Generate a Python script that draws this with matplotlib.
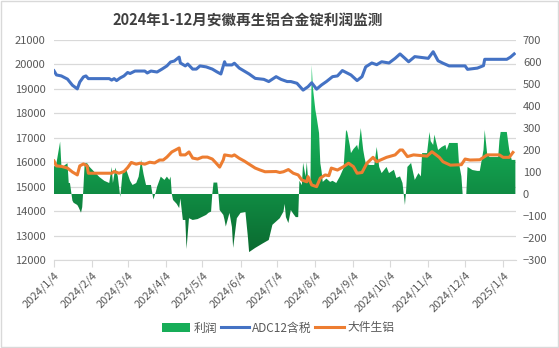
import matplotlib
matplotlib.use("Agg")
import matplotlib.pyplot as plt
import numpy as np
import pandas as pd
import matplotlib.dates as mdates
from matplotlib.colors import LinearSegmentedColormap
from matplotlib.lines import Line2D
from matplotlib.patches import Patch, Rectangle

plt.rcParams['font.family'] = ['Noto Sans CJK SC', 'DejaVu Sans']

# ---- data ----
adc12_dates = [
    "2024-01-04", "2024-01-06", "2024-01-10", "2024-01-15", "2024-01-19", "2024-01-23", "2024-01-25",
    "2024-01-28", "2024-01-30", "2024-02-01", "2024-02-18", "2024-02-20", "2024-02-22", "2024-02-24",
    "2024-02-27", "2024-03-01", "2024-03-04", "2024-03-06", "2024-03-10", "2024-03-18", "2024-03-20",
    "2024-03-23", "2024-03-28", "2024-04-01", "2024-04-05", "2024-04-08", "2024-04-11", "2024-04-15",
    "2024-04-16", "2024-04-20", "2024-04-22", "2024-04-26", "2024-04-29", "2024-05-02", "2024-05-07",
    "2024-05-12", "2024-05-16", "2024-05-19", "2024-05-22", "2024-05-23", "2024-05-28", "2024-05-30",
    "2024-06-03", "2024-06-07", "2024-06-11", "2024-06-16", "2024-06-23", "2024-06-27", "2024-07-03",
    "2024-07-07", "2024-07-12", "2024-07-15", "2024-07-20", "2024-07-25", "2024-07-29", "2024-08-01",
    "2024-08-05", "2024-08-09", "2024-08-13", "2024-08-18", "2024-08-22", "2024-08-26", "2024-09-02",
    "2024-09-07", "2024-09-11", "2024-09-14", "2024-09-19", "2024-09-23", "2024-09-27", "2024-10-03",
    "2024-10-08", "2024-10-12", "2024-10-16", "2024-10-19", "2024-10-24", "2024-11-04", "2024-11-08",
    "2024-11-12", "2024-11-16", "2024-11-21", "2024-12-04", "2024-12-06", "2024-12-14", "2024-12-19",
    "2024-12-20", "2025-01-07", "2025-01-10", "2025-01-13",
]
adc12 = [
    19740, 19570, 19530, 19400, 19150, 19000, 19280,
    19490, 19530, 19420, 19420, 19360, 19420, 19340,
    19450, 19530, 19670, 19630, 19730, 19730, 19650,
    19730, 19690, 19810, 19940, 20100, 20140, 20300,
    20060, 19940, 20020, 19810, 19810, 19940, 19900,
    19810, 19690, 19610, 20110, 19980, 19980, 20050,
    19850, 19730, 19610, 19430, 19390, 19300, 19500,
    19390, 19300, 19300, 19230, 18950, 19090, 19250,
    18990, 19160, 19300, 19500, 19530, 19750, 19570,
    19340, 19500, 19900, 20060, 19990, 20110, 20060,
    20250, 20430, 20250, 20110, 20320, 20250, 20520,
    20150, 20050, 19940, 19940, 19800, 19850, 19950,
    20210, 20210, 20300, 20430,
]

scrap_dates = [
    "2024-01-04", "2024-01-06", "2024-01-10", "2024-01-15", "2024-01-19", "2024-01-23", "2024-01-25",
    "2024-01-28", "2024-01-31", "2024-02-01", "2024-02-20", "2024-02-22", "2024-02-26", "2024-03-01",
    "2024-03-04", "2024-03-07", "2024-03-11", "2024-03-14", "2024-03-18", "2024-03-22", "2024-03-26",
    "2024-03-30", "2024-04-02", "2024-04-05", "2024-04-09", "2024-04-12", "2024-04-15", "2024-04-16",
    "2024-04-20", "2024-04-23", "2024-04-26", "2024-04-30", "2024-05-04", "2024-05-08", "2024-05-12",
    "2024-05-15", "2024-05-18", "2024-05-21", "2024-05-22", "2024-05-28", "2024-05-30", "2024-06-03",
    "2024-06-07", "2024-06-11", "2024-06-16", "2024-06-20", "2024-06-24", "2024-07-03", "2024-07-06",
    "2024-07-09", "2024-07-13", "2024-07-17", "2024-07-21", "2024-07-24", "2024-07-28", "2024-07-29",
    "2024-08-01", "2024-08-05", "2024-08-08", "2024-08-12", "2024-08-15", "2024-08-17", "2024-08-22",
    "2024-08-27", "2024-08-31", "2024-09-04", "2024-09-07", "2024-09-11", "2024-09-15", "2024-09-20",
    "2024-09-23", "2024-09-26", "2024-10-01", "2024-10-08", "2024-10-12", "2024-10-14", "2024-10-18",
    "2024-10-23", "2024-11-03", "2024-11-07", "2024-11-13", "2024-11-16", "2024-11-22", "2024-12-01",
    "2024-12-04", "2024-12-08", "2024-12-16", "2024-12-22", "2025-01-01", "2025-01-04", "2025-01-09",
    "2025-01-12",
]
scrap = [
    16050, 15850, 15830, 15760, 15600, 15480, 15850,
    15930, 15850, 15550, 15550, 15620, 15550, 15620,
    15780, 15990, 15920, 15960, 15920, 16000, 15970,
    16090, 16090, 16210, 16420, 16500, 16580, 16300,
    16300, 16420, 16170, 16130, 16210, 16210, 16130,
    15970, 15800, 16100, 16300, 16250, 16300, 16160,
    16050, 15920, 15760, 15680, 15610, 15620, 15580,
    15610, 15700, 15550, 15480, 15270, 15200, 15410,
    15070, 15000, 15350, 15480, 15450, 15760, 15680,
    15820, 15960, 15820, 15550, 15580, 15960, 16200,
    16020, 16090, 16200, 16300, 16500, 16500, 16230,
    16300, 16250, 16430, 16200, 16020, 15880, 15900,
    16130, 16090, 16100, 16300, 16300, 16200, 16200,
    16400,
]

profit_dates = [
    "2024-01-04", "2024-01-06", "2024-01-09", "2024-01-10", "2024-01-11", "2024-01-15", "2024-01-16",
    "2024-01-17", "2024-01-19", "2024-01-20", "2024-01-23", "2024-01-24", "2024-01-26", "2024-01-27",
    "2024-01-28", "2024-01-29", "2024-01-31", "2024-02-02", "2024-02-06", "2024-02-10", "2024-02-14",
    "2024-02-18", "2024-02-20", "2024-02-21", "2024-02-23", "2024-02-25", "2024-02-27", "2024-02-29",
    "2024-03-03", "2024-03-06", "2024-03-08", "2024-03-11", "2024-03-13", "2024-03-15", "2024-03-17",
    "2024-03-19", "2024-03-23", "2024-03-25", "2024-03-27", "2024-03-28", "2024-03-31", "2024-04-03",
    "2024-04-05", "2024-04-07", "2024-04-08", "2024-04-09", "2024-04-10", "2024-04-13", "2024-04-15",
    "2024-04-16", "2024-04-18", "2024-04-20", "2024-04-21", "2024-04-23", "2024-04-26", "2024-04-30",
    "2024-05-07", "2024-05-09", "2024-05-11", "2024-05-12", "2024-05-13", "2024-05-16", "2024-05-17",
    "2024-05-18", "2024-05-21", "2024-05-22", "2024-05-23", "2024-05-26", "2024-05-28", "2024-05-29",
    "2024-06-01", "2024-06-04", "2024-06-08", "2024-06-10", "2024-06-11", "2024-06-16", "2024-06-22",
    "2024-06-27", "2024-06-30", "2024-07-03", "2024-07-06", "2024-07-09", "2024-07-10", "2024-07-11",
    "2024-07-13", "2024-07-15", "2024-07-17", "2024-07-19", "2024-07-21", "2024-07-22", "2024-07-24",
    "2024-07-25", "2024-07-27", "2024-07-28", "2024-07-29", "2024-07-31", "2024-08-01", "2024-08-02",
    "2024-08-04", "2024-08-05", "2024-08-07", "2024-08-08", "2024-08-09", "2024-08-10", "2024-08-13",
    "2024-08-16", "2024-08-18", "2024-08-21", "2024-08-24", "2024-08-27", "2024-08-29", "2024-08-30",
    "2024-09-01", "2024-09-02", "2024-09-04", "2024-09-07", "2024-09-08", "2024-09-10", "2024-09-12",
    "2024-09-13", "2024-09-14", "2024-09-17", "2024-09-21", "2024-09-23", "2024-09-25", "2024-09-27",
    "2024-10-01", "2024-10-03", "2024-10-07", "2024-10-09", "2024-10-12", "2024-10-14", "2024-10-15",
    "2024-10-16", "2024-10-17", "2024-10-18", "2024-10-21", "2024-10-24", "2024-10-27", "2024-10-29",
    "2024-10-30", "2024-11-03", "2024-11-05", "2024-11-06", "2024-11-08", "2024-11-09", "2024-11-12",
    "2024-11-15", "2024-11-18", "2024-11-19", "2024-11-21", "2024-11-28", "2024-11-29", "2024-12-01",
    "2024-12-02", "2024-12-05", "2024-12-06", "2024-12-10", "2024-12-14", "2024-12-16", "2024-12-19",
    "2024-12-20", "2024-12-22", "2024-12-24", "2024-12-31", "2025-01-01", "2025-01-02", "2025-01-07",
    "2025-01-09", "2025-01-11", "2025-01-14",
]
profit = [
    124, 140, 238, 130, 124, 140, 50,
    50, -30, -40, -50, -60, -85, -60,
    30, 140, 140, 123, 100, 77, 60,
    50, 123, 50, 120, 80, -14, 105,
    109, 60, 41, 50, 79, 155, 90,
    41, 41, -25, 10, 33, 79, 64,
    79, 64, 79, 0, -27, -45, -64,
    -20, -118, -118, -250, -110, -118, -114,
    -95, -85, -80, 0, 52, 52, 0,
    -73, -95, -118, -148, -86, -150, -245,
    -110, -86, -82, -195, -264, -245, -225,
    -209, -140, -125, -110, -80, -45, -105,
    -132, -73, -90, -105, -105, 60, 40,
    142, 79, 145, 70, 50, 586, 482,
    382, 350, 277, 141, 105, 55, 70,
    55, 60, 50, 80, 118, 291, 282,
    223, 186, 204, 223, 200, 300, 200,
    168, 141, 132, 132, 214, 123, 95,
    123, 95, 110, 73, 80, 50, 0,
    -50, 20, 123, 141, 64, 95, 80,
    186, 186, 282, 240, 223, 270, 200,
    214, 223, 200, 232, 232, 141, 80,
    0, 0, 123, 109, 105, 105, 200,
    291, 182, 168, 168, 245, 282, 282,
    200, 155, 155,
]

tick_dates = pd.date_range("2024-01-04", "2025-01-04", freq="MS") + pd.Timedelta(days=3)
tick_dates = [pd.Timestamp(d.year, d.month, 4) for d in pd.date_range("2024-01-01", "2025-01-01", freq="MS")]

title = "2024年1-12月安徽再生铝合金锭利润监测"
label_profit, label_adc, label_scrap = "利润", "ADC12含税", "大件生铝"

blue, orange = "#4472C4", "#ED7D31"
grid_c, text_c = "#D9D9D9", "#595959"

fig = plt.figure(figsize=(5.59, 3.48), dpi=100)
ax = fig.add_axes([54 / 559, 1 - 260 / 348, 462 / 559, 220 / 348])
ax2 = ax.twinx()   # right axis: profit area
ax3 = ax.twinx()   # lines on top, shares left scale

x_lo = mdates.date2num(pd.Timestamp("2024-01-04"))
x_hi = x_lo + 376.5

# profit area with vertical gradient
pdates = mdates.date2num(pd.to_datetime(profit_dates))
poly = ax2.fill_between(pdates, profit, 0, facecolor="none", edgecolor="none")
cmap = LinearSegmentedColormap.from_list("g", ["#0B6A30", "#13A04F", "#1EC86C"])
grad = np.linspace(0, 1, 256).reshape(-1, 1)
im = ax2.imshow(grad, extent=[x_lo, x_hi, -270, 590], origin="lower",
                aspect="auto", cmap=cmap, interpolation="bilinear")
im.set_clip_path(poly.get_paths()[0], transform=ax2.transData)

ax3.plot(pd.to_datetime(adc12_dates), adc12, color=blue, lw=2.2, solid_joinstyle="round")
ax3.plot(pd.to_datetime(scrap_dates), scrap, color=orange, lw=2.2, solid_joinstyle="round")

for a in (ax, ax2, ax3):
    a.set_xlim(x_lo, x_hi)
    for s in a.spines.values():
        s.set_visible(False)
ax.set_ylim(12000, 21000)
ax3.set_ylim(12000, 21000)
ax2.set_ylim(-300, 700)

ax.set_yticks(range(12000, 21001, 1000))
ax2.set_yticks(range(-300, 701, 100))
ax3.set_yticks([])
ax.grid(axis="y", color=grid_c, lw=0.9)
ax.set_axisbelow(True)
ax.tick_params(axis="y", length=0, pad=6, labelsize=8, labelcolor=text_c)
ax2.tick_params(axis="y", length=0, pad=5, labelsize=8, labelcolor=text_c)

ax.spines["bottom"].set_visible(True)
ax.spines["bottom"].set_color(grid_c)
ax.set_xticks(mdates.date2num(tick_dates))
ax.set_xticklabels([f"{d.year}/{d.month}/{d.day}" for d in tick_dates],
                   rotation=45, ha="right", rotation_mode="anchor")
ax.tick_params(axis="x", length=5, color=grid_c, labelsize=8, labelcolor=text_c, pad=2)
ax2.tick_params(axis="x", bottom=False, labelbottom=False)
ax3.tick_params(axis="x", bottom=False, labelbottom=False)

fig.text(248 / 559, 1 - 21 / 348, title, ha="center", va="center",
         fontsize=10.5, fontweight="bold", color="#404040")

handles = [Patch(facecolor="#17AD58", edgecolor="none"),
           Line2D([], [], color=blue, lw=2.2),
           Line2D([], [], color=orange, lw=2.2)]
fig.legend(handles, [label_profit, label_adc, label_scrap], loc="center",
           bbox_to_anchor=(278 / 559, 1 - 328 / 348), ncol=3, frameon=False,
           fontsize=8.5, handlelength=2.4, handleheight=0.9, handletextpad=0.3,
           columnspacing=0.3, labelcolor=text_c)

fig.patches.append(Rectangle((0.001, 0.002), 0.997, 0.996, transform=fig.transFigure,
                             fill=False, edgecolor=grid_c, lw=1))

fig.savefig("out.png", dpi=100)
